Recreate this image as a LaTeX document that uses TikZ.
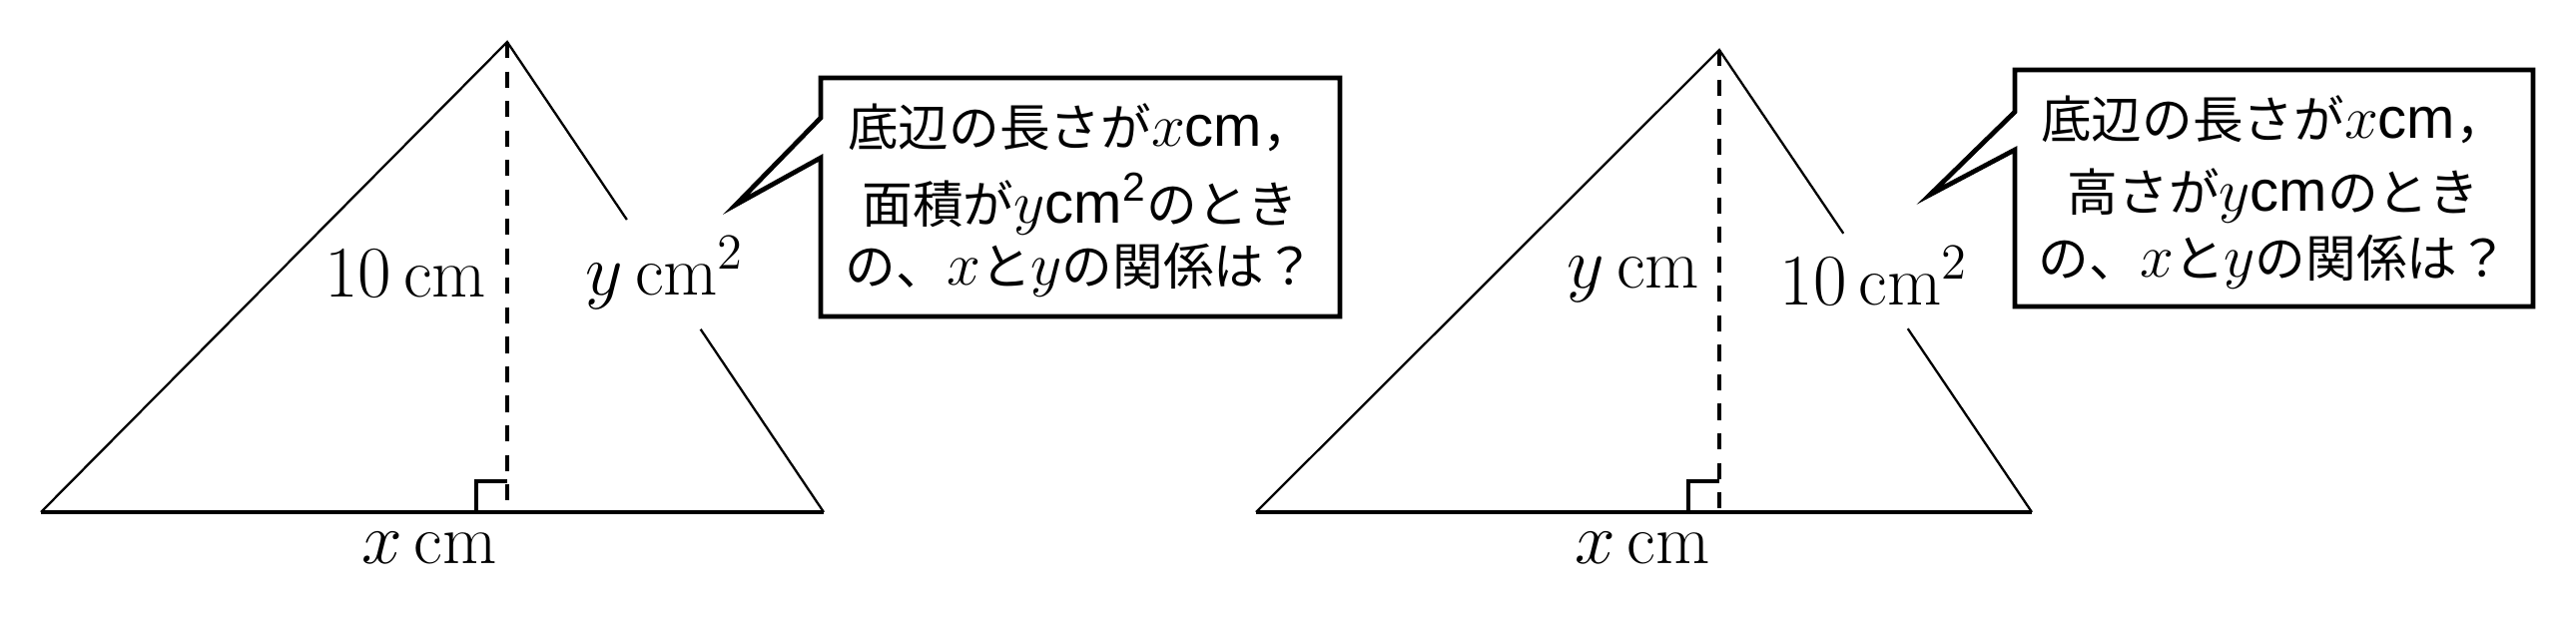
\documentclass[tikz,border=0pt]{standalone}
\usepackage{fontspec}
\newfontfamily\jp{Noto Sans CJK JP}
\newfontfamily\arl{Liberation Sans}
\usetikzlibrary{calc}
\newcommand{\lat}[1]{{\fontsize{17.5}{17}\selectfont #1}}
\newcommand{\ucm}[1]{{\arl\fontsize{16.5}{17}\selectfont #1}}
\tikzset{
  side/.style={line width=0.65pt},
  baseln/.style={line width=1.3pt},
  alt/.style={line width=0.95pt, dash pattern=on 4.6pt off 3.8pt},
  rangle/.style={line width=0.9pt},
  bubble/.style={line width=1.35pt, line join=miter},
  lbl/.style={inner sep=0pt, anchor=base, font=\fontsize{20}{24}\selectfont},
  btxt/.style={inner sep=0pt, anchor=base, font=\jp\fontsize{14.4}{17}\selectfont}
}
\begin{document}
\begin{tikzpicture}[x=0.01cm,y=-0.01cm]
\useasboundingbox (0,0) rectangle (2580,628);
% ---------- left figure ----------
\coordinate (A1) at (508,42);
\coordinate (B1) at (41,513);
\coordinate (C1) at (825,513);
\coordinate (H1) at (508,513);
\coordinate (P1) at ($(A1)!0.378!(C1)$);
\coordinate (Q1) at ($(A1)!0.611!(C1)$);
\draw[side] (B1) -- (A1) -- (P1);
\draw[side] (Q1) -- (C1);
\draw[baseln] (B1) -- (C1);
\draw[alt] (A1) -- (H1);
\draw[rangle] (H1) ++(-31,0) coordinate (S1) -- ++(0,-31) -- ++(31,0);
\node[lbl] (h1) at (406,298) {$10\,\mathrm{cm}$};
\node[lbl] (s1) at (666,296) {$y\,\mathrm{cm}^2$};
\node[lbl] (b1) at (430,565) {$x\,\mathrm{cm}$};
% bubble 1
\coordinate (T1) at (737,205);
\draw[bubble, fill=white] (822,78) -- (1342,78) -- (1342,317) -- (822,317) -- (822,158) -- (T1) -- (822,118) -- cycle;
\node[btxt] (t1a) at (1082,147) {底辺の長さが\lat{$x$}\ucm{cm}，};
\node[btxt] (t1b) at (1082,224) {面積が\lat{$y$}\ucm{cm\textsuperscript{2}}のとき};
\node[btxt] (t1c) at (1082,286) {の、\lat{$x$}と\lat{$y$}の関係は？};
% ---------- right figure ----------
\coordinate (A2) at (1722,50);
\coordinate (B2) at (1258,513);
\coordinate (C2) at (2035,513);
\coordinate (H2) at (1722,513);
\coordinate (P2) at ($(A2)!0.397!(C2)$);
\coordinate (Q2) at ($(A2)!0.603!(C2)$);
\draw[side] (B2) -- (A2) -- (P2);
\draw[side] (Q2) -- (C2);
\draw[baseln] (B2) -- (C2);
\draw[alt] (A2) -- (H2);
\draw[rangle] (H2) ++(-31,0) coordinate (S2) -- ++(0,-31) -- ++(31,0);
\node[lbl] (h2) at (1636,289) {$y\,\mathrm{cm}$};
\node[lbl] (s2) at (1877,306) {$10\,\mathrm{cm}^2$};
\node[lbl] (b2) at (1645,565) {$x\,\mathrm{cm}$};
% bubble 2
\coordinate (T2) at (1933,195);
\draw[bubble, fill=white] (2018,70) -- (2537,70) -- (2537,307) -- (2018,307) -- (2018,150) -- (T2) -- (2018,112) -- cycle;
\node[btxt] (t2a) at (2277,139) {底辺の長さが\lat{$x$}\ucm{cm}，};
\node[btxt] (t2b) at (2277,212) {高さが\lat{$y$}\ucm{cm}のとき};
\node[btxt] (t2c) at (2277,278) {の、\lat{$x$}と\lat{$y$}の関係は？};
\end{tikzpicture}
\end{document}
